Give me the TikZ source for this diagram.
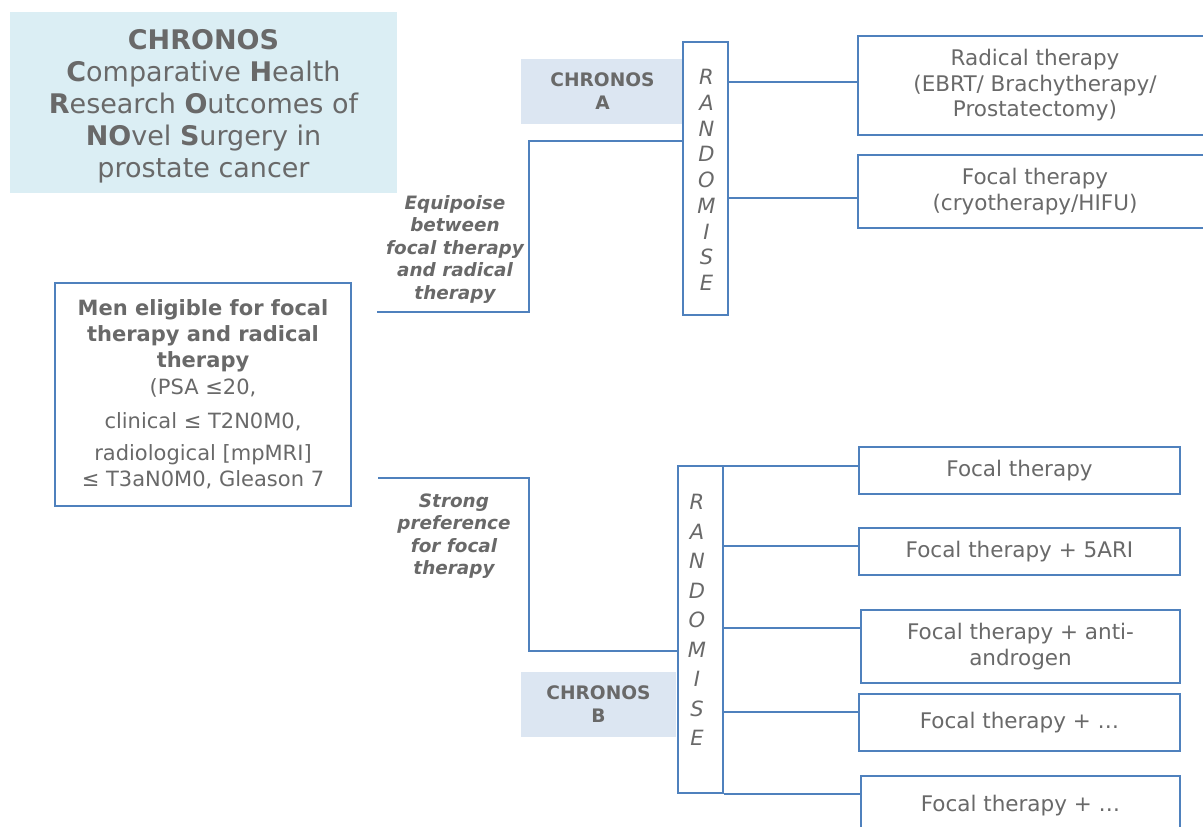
\documentclass[tikz,border=0pt]{standalone}
\usepackage{fontspec}
\setmainfont{DejaVu Sans}
\definecolor{txt}{HTML}{696969}
\definecolor{ln}{HTML}{4F81BD}
\definecolor{titlefill}{HTML}{DBEEF4}
\definecolor{tagfill}{HTML}{DCE6F2}
\begin{document}
\begin{tikzpicture}[x=1pt,y=-1pt,
  every node/.style={text=txt, align=center, inner sep=0pt},
  frame/.style={draw=ln, line width=2.4pt, fill=white},
  conn/.style={draw=ln, line width=2.4pt},
  tag/.style={fill=tagfill, minimum width=#1, minimum height=65pt, font={\fontsize{18.6}{23}\selectfont\bfseries}},
  armtext/.style={font={\fontsize{21.5}{25.5}\selectfont}},
  lbl/.style={font={\fontsize{18.4}{22.5}\selectfont\bfseries\itshape}},
  randtext/.style={font={\fontsize{21}{#1}\selectfont\itshape}}
]
\clip (0,0) rectangle (1203,827);

% title
\node[fill=titlefill, minimum width=387pt, minimum height=181pt] (title) at (203.5,102.5) {};
\node[font={\fontsize{27}{32}\selectfont}] (titletxt) at (203.5,106)
  {\textbf{CHRONOS}\\ \textbf{C}omparative \textbf{H}ealth\\ \textbf{R}esearch \textbf{O}utcomes of\\ \textbf{NO}vel \textbf{S}urgery in\\ prostate cancer};

% main box
\node[frame, minimum width=296pt, minimum height=223pt,
      font={\fontsize{21}{26}\selectfont}] (men) at (203,394.5)
  {\textbf{Men eligible for focal}\\ \textbf{therapy and radical}\\ \textbf{therapy}\\[1pt]
   (PSA ≤20,\\[8pt] clinical ≤ T2N0M0,\\[6pt] radiological [mpMRI]\\ ≤ T3aN0M0, Gleason 7};

% CHRONOS tags
\node[tag=163pt] (tagA) at (602.5,91.5) {CHRONOS\\A};
\node[tag=155pt] (tagB) at (598.5,704.5) {CHRONOS\\B};

% randomise boxes
\node[frame, minimum width=45pt, minimum height=273pt] (randA) at (705.5,178.5) {};
\node[randtext=25.75pt] (randAtxt) at (706.5,180) {R\\A\\N\\D\\O\\M\\I\\S\\E};
\node[frame, minimum width=45pt, minimum height=327pt] (randB) at (700.5,629.5) {};
\node[randtext=29.5pt] (randBtxt) at (697,620) {R\\A\\N\\D\\O\\M\\I\\S\\E};

% labels
\node[lbl] (eq) at (455,249) {Equipoise\\between\\focal therapy\\and radical\\therapy};
\node[lbl] (sp) at (454,536) {Strong\\preference\\for focal\\therapy};

% arms A
\node[frame, armtext, minimum width=354pt, minimum height=99pt] (rad) at (1035,85.5)
  {Radical therapy\\(EBRT/ Brachytherapy/\\Prostatectomy)};
\node[frame, armtext, minimum width=354pt, minimum height=73pt] (focA) at (1035,191.5)
  {Focal therapy\\(cryotherapy/HIFU)};

% arms B
\node[frame, armtext, minimum width=321pt, minimum height=47pt] (f1) at (1019.5,470.5) {Focal therapy};
\node[frame, armtext, minimum width=321pt, minimum height=47pt] (f2) at (1019.5,551.5) {Focal therapy + 5ARI};
\node[frame, armtext, minimum width=319pt, minimum height=73pt] (f3) at (1020.5,646.5) {Focal therapy + anti-\\androgen};
\node[frame, armtext, minimum width=321pt, minimum height=57pt] (f4) at (1019.5,722.5) {Focal therapy + …};
\node[frame, armtext, minimum width=319pt, minimum height=60pt] (f5) at (1020.5,806) {Focal therapy + …};

% connectors from main box
\coordinate (u0) at (377,312);
\coordinate (u1) at (529,141);
\draw[conn] (u0) -| (u1) -- (u1 -| randA.west);
\coordinate (l0) at (378,478);
\coordinate (l1) at (529,651);
\draw[conn] (l0) -| (l1) -- (l1 -| randB.west);

% connectors to arms A
\coordinate (a1) at (728,82);
\coordinate (a2) at (728,198);
\draw[conn] (randA.east |- a1) -- (a1 -| rad.west);
\draw[conn] (randA.east |- a2) -- (a2 -| focA.west);

% connectors to arms B
\coordinate (b1) at (723,466);
\coordinate (b2) at (723,546);
\coordinate (b3) at (723,628);
\coordinate (b4) at (723,712);
\coordinate (b5) at (723,794);
\draw[conn] (randB.east |- b1) -- (b1 -| f1.west);
\draw[conn] (randB.east |- b2) -- (b2 -| f2.west);
\draw[conn] (randB.east |- b3) -- (b3 -| f3.west);
\draw[conn] (randB.east |- b4) -- (b4 -| f4.west);
\draw[conn] (randB.east |- b5) -- (b5 -| f5.west);
\end{tikzpicture}
\end{document}
